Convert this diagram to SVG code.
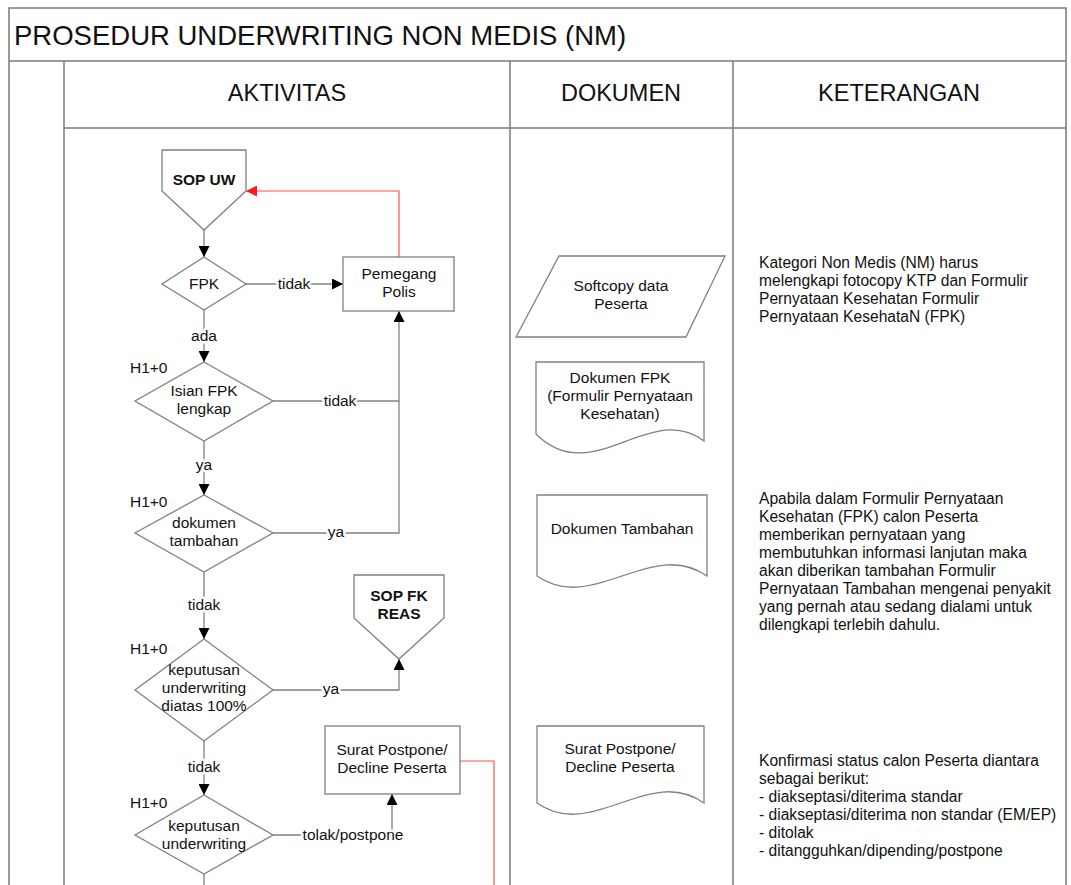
<svg xmlns="http://www.w3.org/2000/svg" width="1071" height="885" viewBox="0 0 1071 885">
  <defs>
    <marker id="arrow" viewBox="0 0 10 10" refX="10" refY="5" markerWidth="11" markerHeight="11" markerUnits="userSpaceOnUse" orient="auto">
      <path d="M0,0 L10,5 L0,10 Z" fill="#000"/>
    </marker>
    <marker id="arrow-red" viewBox="0 0 10 10" refX="10" refY="5" markerWidth="11" markerHeight="11" markerUnits="userSpaceOnUse" orient="auto">
      <path d="M0,0 L10,5 L0,10 Z" fill="#ff1a1a"/>
    </marker>
  </defs>
  <style>
    .grid { fill: none; stroke: #7a7a7a; stroke-width: 1.5; }
    .shape { fill: #fff; stroke: #808080; stroke-width: 1.3; }
    .conn { fill: none; stroke: #808080; stroke-width: 1.3; }
    .conn-red { fill: none; stroke: #ff4d4d; stroke-width: 1.2; }
    text { font-family: "Liberation Sans", Arial, sans-serif; fill: #111; }
    .title { font-size: 27.5px; }
    .head { font-size: 23.5px; text-anchor: middle; }
    .t { font-size: 15.5px; text-anchor: middle; }
    .ts { font-size: 15.5px; text-anchor: start; }
    .tb { font-size: 15.5px; text-anchor: middle; font-weight: bold; }
    .note { font-size: 15.6px; }
    .lbl { font-size: 15.5px; text-anchor: middle; stroke: #fff; stroke-width: 5; paint-order: stroke; stroke-linejoin: round; }
  </style>

  <rect width="1071" height="885" fill="#fff"/>

  <!-- table frame -->
  <g id="table">
    <path class="grid" d="M9,900 V8 H1066 V900"/>
    <line class="grid" x1="9" y1="61" x2="1066" y2="61"/>
    <line class="grid" x1="64" y1="61" x2="64" y2="900"/>
    <line class="grid" x1="510" y1="61" x2="510" y2="900"/>
    <line class="grid" x1="733" y1="61" x2="733" y2="900"/>
    <line class="grid" x1="64" y1="128" x2="1066" y2="128"/>
    <text class="title" x="14" y="45">PROSEDUR UNDERWRITING NON MEDIS (NM)</text>
    <text class="head" x="287" y="101">AKTIVITAS</text>
    <text class="head" x="621" y="101">DOKUMEN</text>
    <text class="head" x="899" y="101">KETERANGAN</text>
  </g>

  <!-- connectors -->
  <g id="connectors">
    <line class="conn" x1="204" y1="230" x2="204" y2="257" marker-end="url(#arrow)"/>
    <line class="conn" x1="246" y1="284" x2="343" y2="284" marker-end="url(#arrow)"/>
    <line class="conn" x1="204" y1="310" x2="204" y2="362" marker-end="url(#arrow)"/>
    <line class="conn" x1="273" y1="401" x2="399" y2="401"/>
    <polyline class="conn" points="273,533 399,533 399,311" marker-end="url(#arrow)"/>
    <polyline class="conn-red" points="399,257 399,191 246,191" marker-end="url(#arrow-red)"/>
    <line class="conn" x1="204" y1="441" x2="204" y2="495" marker-end="url(#arrow)"/>
    <line class="conn" x1="204" y1="572" x2="204" y2="639" marker-end="url(#arrow)"/>
    <polyline class="conn" points="273,690 399,690 399,659" marker-end="url(#arrow)"/>
    <line class="conn" x1="204" y1="741" x2="204" y2="795" marker-end="url(#arrow)"/>
    <polyline class="conn" points="273,835 392,835 392,794" marker-end="url(#arrow)"/>
    <polyline class="conn-red" points="460,761 494,761 494,890"/>
    <line class="conn" x1="204" y1="874" x2="204" y2="890"/>

    <text class="lbl" x="294" y="289">tidak</text>
    <text class="lbl" x="204" y="341">ada</text>
    <text class="lbl" x="340" y="406">tidak</text>
    <text class="lbl" x="204" y="470">ya</text>
    <text class="lbl" x="336" y="537">ya</text>
    <text class="lbl" x="204" y="610">tidak</text>
    <text class="lbl" x="331" y="694">ya</text>
    <text class="lbl" x="204" y="772">tidak</text>
    <text class="lbl" x="353" y="840">tolak/postpone</text>
  </g>

  <!-- activity flow -->
  <g id="sop-uw">
    <path class="shape" d="M162,150 H246 V191 L204,230 L162,191 Z"/>
    <text class="tb" x="204" y="185">SOP UW</text>
  </g>
  <g id="fpk">
    <path class="shape" d="M204,257 L246,284 L204,310 L162,284 Z"/>
    <text class="t" x="204" y="289">FPK</text>
  </g>
  <g id="pemegang-polis">
    <rect class="shape" x="343" y="257" width="111" height="54"/>
    <text class="t" x="399" y="279">Pemegang</text>
    <text class="t" x="399" y="297">Polis</text>
  </g>
  <g id="isian-fpk">
    <text class="ts" x="130" y="373">H1+0</text>
    <path class="shape" d="M204,362 L273,401 L204,441 L135,401 Z"/>
    <text class="t" x="204" y="396">Isian FPK</text>
    <text class="t" x="204" y="414">lengkap</text>
  </g>
  <g id="dokumen-tambahan">
    <text class="ts" x="130" y="507">H1+0</text>
    <path class="shape" d="M204,495 L273,533 L204,572 L135,533 Z"/>
    <text class="t" x="204" y="528">dokumen</text>
    <text class="t" x="204" y="546">tambahan</text>
  </g>
  <g id="sop-fk-reas">
    <path class="shape" d="M354,575 H444 V618 L399,659 L354,618 Z"/>
    <text class="tb" x="399" y="601">SOP FK</text>
    <text class="tb" x="399" y="619">REAS</text>
  </g>
  <g id="keputusan-100">
    <text class="ts" x="130" y="654">H1+0</text>
    <path class="shape" d="M204,639 L273,690 L204,741 L135,690 Z"/>
    <text class="t" x="204" y="675">keputusan</text>
    <text class="t" x="204" y="693">underwriting</text>
    <text class="t" x="204" y="711">diatas 100%</text>
  </g>
  <g id="surat-postpone">
    <rect class="shape" x="325" y="726" width="135" height="68"/>
    <text class="t" x="392" y="755">Surat Postpone/</text>
    <text class="t" x="392" y="773">Decline Peserta</text>
  </g>
  <g id="keputusan-uw">
    <text class="ts" x="130" y="808">H1+0</text>
    <path class="shape" d="M204,795 L273,835 L204,874 L135,835 Z"/>
    <text class="t" x="204" y="831">keputusan</text>
    <text class="t" x="204" y="849">underwriting</text>
  </g>

  <!-- documents -->
  <g id="doc-softcopy">
    <path class="shape" d="M559,256 H725 L686,337 H516 Z"/>
    <text class="t" x="621" y="291">Softcopy data</text>
    <text class="t" x="621" y="309">Peserta</text>
  </g>
  <g id="doc-fpk">
    <path class="shape" d="M536,362 H704 V441 C650,400 592,490 536,434 Z"/>
    <text class="t" x="620" y="383">Dokumen FPK</text>
    <text class="t" x="620" y="401">(Formulir Pernyataan</text>
    <text class="t" x="620" y="419">Kesehatan)</text>
  </g>
  <g id="doc-tambahan">
    <path class="shape" d="M537,495 H707 V576 C651,537 593,615 537,576 Z"/>
    <text class="t" x="622" y="534">Dokumen Tambahan</text>
  </g>
  <g id="doc-surat">
    <path class="shape" d="M537,726 H704 V803 C649,764 592,842 537,803 Z"/>
    <text class="t" x="620" y="754">Surat Postpone/</text>
    <text class="t" x="620" y="772">Decline Peserta</text>
  </g>

  <!-- notes -->
  <g id="note-kategori">
    <text class="note" x="759" y="268">Kategori Non Medis (NM) harus</text>
    <text class="note" x="759" y="286">melengkapi fotocopy KTP dan Formulir</text>
    <text class="note" x="759" y="304">Pernyataan Kesehatan Formulir</text>
    <text class="note" x="759" y="322">Pernyataan KesehataN (FPK)</text>
  </g>
  <g id="note-tambahan">
    <text class="note" x="759" y="504">Apabila dalam Formulir Pernyataan</text>
    <text class="note" x="759" y="522">Kesehatan (FPK) calon Peserta</text>
    <text class="note" x="759" y="540">memberikan pernyataan yang</text>
    <text class="note" x="759" y="558">membutuhkan informasi lanjutan maka</text>
    <text class="note" x="759" y="576">akan diberikan tambahan Formulir</text>
    <text class="note" x="759" y="594">Pernyataan Tambahan mengenai penyakit</text>
    <text class="note" x="759" y="612">yang pernah atau sedang dialami untuk</text>
    <text class="note" x="759" y="630">dilengkapi terlebih dahulu.</text>
  </g>
  <g id="note-status">
    <text class="note" x="759" y="766">Konfirmasi status calon Peserta diantara</text>
    <text class="note" x="759" y="784">sebagai berikut:</text>
    <text class="note" x="759" y="802">- diakseptasi/diterima standar</text>
    <text class="note" x="759" y="820">- diakseptasi/diterima non standar (EM/EP)</text>
    <text class="note" x="759" y="838">- ditolak</text>
    <text class="note" x="759" y="856">- ditangguhkan/dipending/postpone</text>
  </g>
</svg>
